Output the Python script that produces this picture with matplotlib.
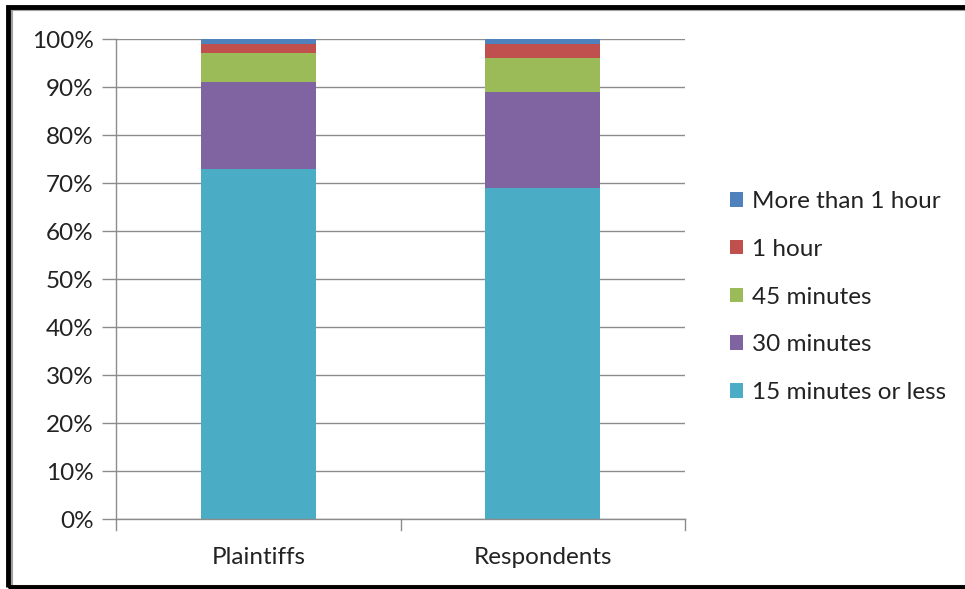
import numpy as np
import matplotlib.pyplot as plt
from matplotlib.patches import Rectangle

plt.rcParams['font.family'] = ['Lato', 'DejaVu Sans']

groups = ['Plaintiffs', 'Respondents']
series = ['15 minutes or less', '30 minutes', '45 minutes', '1 hour', 'More than 1 hour']
values = {
    '15 minutes or less': [73, 69],
    '30 minutes': [18, 20],
    '45 minutes': [6, 7],
    '1 hour': [2, 3],
    'More than 1 hour': [1, 1],
}
colors = ['#4bacc6', '#8064a2', '#9bbb59', '#c0504d', '#4f81bd']

W, H = 965, 589
fs = 17.5
fig = plt.figure(figsize=(W / 100, H / 100), dpi=100)

# plot area in pixel coords
x0, x1, y0, y1 = 116, 685, 39, 519
ax = fig.add_axes([x0 / W, 1 - y1 / H, (x1 - x0) / W, (y1 - y0) / H])

x = np.arange(len(groups))
bottom = np.zeros(len(groups))
for name, c in zip(series, colors):
    v = np.array(values[name], dtype=float)
    ax.bar(x, v, width=0.405, bottom=bottom, color=c, label=name, zorder=2)
    bottom += v

ax.set_xlim(-0.5, len(groups) - 0.5)
ax.set_ylim(0, 100)
ax.set_yticks(np.arange(0, 101, 10))
ax.set_yticklabels(['%d%%' % t for t in range(0, 101, 10)], fontsize=fs, color='#222222')
ax.yaxis.grid(True, color='#8c8c8c', linewidth=1.0, zorder=0)
ax.set_axisbelow(True)

ax.set_xticks(x)
ax.set_xticklabels(groups, fontsize=fs, color='#222222')
ax.tick_params(axis='x', length=0, pad=20)
ax.tick_params(axis='y', length=10, color='#8c8c8c', width=1, pad=6)
# category separators under the x axis
for b in np.arange(-0.5, len(groups), 1.0):
    ax.plot([b, b], [0, -2.2], color='#8c8c8c', lw=1, clip_on=False)

for s in ['top', 'right']:
    ax.spines[s].set_visible(False)
for s in ['left', 'bottom']:
    ax.spines[s].set_color('#8c8c8c')
    ax.spines[s].set_linewidth(1)

handles, labels = ax.get_legend_handles_labels()
fig.legend(handles[::-1], labels[::-1], loc='center left',
           bbox_to_anchor=(708 / W, 1 - 297 / H), frameon=False,
           fontsize=fs, labelspacing=1.1, handlelength=0.55, handleheight=0.55,
           handletextpad=0.35, labelcolor='#222222')

# chart frame
fig.patches.append(Rectangle((11.5 / W, 3.5 / H), 1.2, (H - 13) / H, transform=fig.transFigure,
                             fill=False, edgecolor='#a0a0a0', linewidth=1.5))
fig.patches.append(Rectangle((7.5 / W, 2 / H), 1.2, (H - 8.5) / H, transform=fig.transFigure,
                             fill=False, edgecolor='black', linewidth=3.5))

fig.savefig('out.png', dpi=100)
